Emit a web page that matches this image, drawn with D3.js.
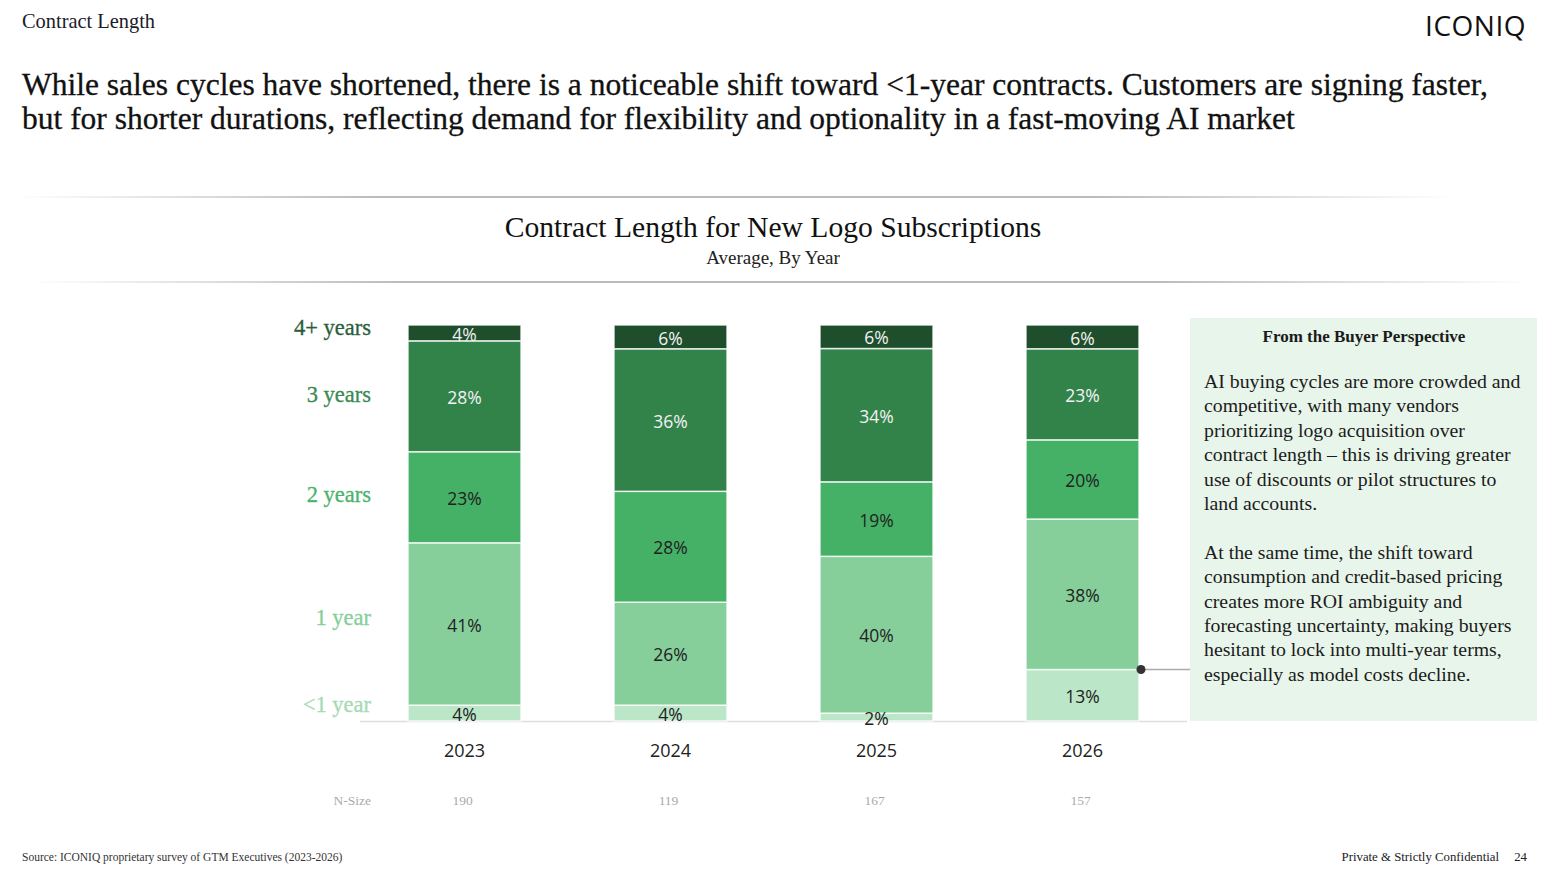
<!DOCTYPE html>
<html>
<head>
<meta charset="utf-8">
<script src="https://cdn.jsdelivr.net/npm/d3@7"></script>
<style>
  html, body { margin: 0; padding: 0; background: #fff; }
  svg { display: block; }
  .serif { font-family: "Liberation Serif", "DejaVu Serif", serif; }
  .sans { font-family: "Open Sans", "Noto Sans", sans-serif; }
</style>
</head>
<body>
<div id="chart"></div>
<script>
// Data
const years = ['2023', '2024', '2025', '2026']
const nSizes = [190, 119, 167, 157]
const lengths = ['<1 year', '1 year', '2 years', '3 years', '4+ years']
const lessThanOne = [4, 4, 2, 13]
const oneYear = [41, 26, 40, 38]
const twoYears = [23, 28, 19, 20]
const threeYears = [28, 36, 34, 23]
const fourPlus = [4, 6, 6, 6]

const titleLines = [
  'While sales cycles have shortened, there is a noticeable shift toward <1-year contracts. Customers are signing faster,',
  'but for shorter durations, reflecting demand for flexibility and optionality in a fast-moving AI market'
]
const panelTitle = 'From the Buyer Perspective'
const panelLines = [
  'AI buying cycles are more crowded and',
  'competitive, with many vendors',
  'prioritizing logo acquisition over',
  'contract length \u2013 this is driving greater',
  'use of discounts or pilot structures to',
  'land accounts.',
  '',
  'At the same time, the shift toward',
  'consumption and credit-based pricing',
  'creates more ROI ambiguity and',
  'forecasting uncertainty, making buyers',
  'hesitant to lock into multi-year terms,',
  'especially as model costs decline.'
]

const series = [lessThanOne, oneYear, twoYears, threeYears, fourPlus]
const table = years.map((y, i) => {
  const row = { year: y }
  lengths.forEach((l, j) => { row[l] = series[j][i] })
  return row
})

// Dimensions
const dimensions = { width: 1558, height: 877 }
const plot = { left: 360, right: 1187, top: 325, bottom: 721 }

const fillColors = ['#bce6c8', '#86cf9b', '#45b166', '#32834a', '#1f4e2d']
const labelColors = ['#a6dab3', '#86cf9b', '#4cb36c', '#3a8a52', '#2b5e3a']
const textColors = ['#222', '#222', '#222', '#f2f2f2', '#f2f2f2']

const svg = d3.select('#chart')
  .append('svg')
  .attr('width', dimensions.width)
  .attr('height', dimensions.height)

// Header
svg.append('text').attr('class', 'serif')
  .attr('x', 22).attr('y', 28)
  .attr('font-size', 20.4).attr('fill', '#1b1b2a')
  .text('Contract Length')

svg.append('text').attr('class', 'sans')
  .attr('x', 1526).attr('y', 36)
  .attr('text-anchor', 'end')
  .attr('font-size', 28).attr('font-weight', 400)
  .attr('letter-spacing', 0.5).attr('fill', '#111')
  .text('ICONIQ')

svg.append('g').selectAll('text')
  .data(titleLines)
  .join('text')
  .attr('class', 'serif')
  .attr('x', 22)
  .attr('y', (d, i) => 95 + i * 34)
  .attr('font-size', 31.5)
  .attr('fill', '#111')
  .attr('stroke', '#111')
  .attr('stroke-width', 0.3)
  .text(d => d)

// Separator lines with faded ends
const defs = svg.append('defs')
const grad = defs.append('linearGradient').attr('id', 'fade')
grad.append('stop').attr('offset', '0%').attr('stop-color', '#bbb').attr('stop-opacity', 0)
grad.append('stop').attr('offset', '25%').attr('stop-color', '#bbb').attr('stop-opacity', 1)
grad.append('stop').attr('offset', '75%').attr('stop-color', '#bbb').attr('stop-opacity', 1)
grad.append('stop').attr('offset', '100%').attr('stop-color', '#bbb').attr('stop-opacity', 0)

svg.append('rect').attr('x', 15).attr('y', 196).attr('width', 1440).attr('height', 2).attr('fill', 'url(#fade)')
svg.append('rect').attr('x', 30).attr('y', 281).attr('width', 1500).attr('height', 2).attr('fill', 'url(#fade)')

svg.append('text').attr('class', 'serif')
  .attr('x', 773).attr('y', 237)
  .attr('text-anchor', 'middle')
  .attr('font-size', 29.6).attr('fill', '#111')
  .text('Contract Length for New Logo Subscriptions')

svg.append('text').attr('class', 'serif')
  .attr('x', 773).attr('y', 264)
  .attr('text-anchor', 'middle')
  .attr('font-size', 19).attr('fill', '#222')
  .text('Average, By Year')

// Scales
const x = d3.scaleBand()
  .domain(years)
  .range([408, 1139])
  .paddingInner(93 / 206)
  .paddingOuter(0)

const y = d3.scaleLinear()
  .domain([0, 1])
  .range([plot.bottom, plot.top])

const stacked = d3.stack()
  .keys(lengths)
  .offset(d3.stackOffsetExpand)(table)

// Baseline (behind the bars)
svg.append('line')
  .attr('x1', plot.left).attr('x2', plot.right)
  .attr('y1', plot.bottom + 0.5).attr('y2', plot.bottom + 0.5)
  .attr('stroke', '#ddd').attr('stroke-width', 1.5)

// Bars
const layers = svg.append('g')
  .selectAll('g')
  .data(stacked)
  .join('g')
  .attr('fill', (d, i) => fillColors[i])

layers.selectAll('rect')
  .data(d => d)
  .join('rect')
  .attr('x', d => x(d.data.year))
  .attr('width', x.bandwidth())
  .attr('y', d => y(d[1]))
  .attr('height', d => y(d[0]) - y(d[1]))
  .attr('stroke', '#fff')
  .attr('stroke-opacity', 0.8)
  .attr('stroke-width', 1.5)

// labels drawn after all rects so small segments are not covered
svg.append('g')
  .selectAll('g')
  .data(stacked)
  .join('g')
  .attr('fill', (d, i) => textColors[i])
  .each(function (layer) {
    d3.select(this).selectAll('text')
      .data(layer)
      .join('text')
      .attr('class', 'sans')
      .attr('x', d => x(d.data.year) + x.bandwidth() / 2)
      .attr('y', d => (y(d[0]) + y(d[1])) / 2)
      .attr('dy', '0.44em')
      .attr('text-anchor', 'middle')
      .attr('font-size', 17.5)
      .text(d => d.data[layer.key] + '%')
  })

// x axis
const xAxis = svg.append('g')
  .attr('transform', `translate(0, ${plot.bottom})`)
  .call(d3.axisBottom(x).tickSize(0).tickPadding(23))
xAxis.select('.domain').remove()
xAxis.selectAll('text')
  .attr('class', 'sans')
  .attr('font-size', 18)
  .attr('fill', '#222')

// Category labels on the left
const labelY = [705, 618, 495, 395, 328]
svg.append('g').selectAll('text')
  .data(lengths)
  .join('text')
  .attr('class', 'serif')
  .attr('x', 371)
  .attr('y', (d, i) => labelY[i])
  .attr('dy', '0.32em')
  .attr('text-anchor', 'end')
  .attr('font-size', 22.5)
  .attr('fill', (d, i) => labelColors[i])
  .attr('stroke', (d, i) => labelColors[i])
  .attr('stroke-width', 0.3)
  .text(d => d)

// N-size row
svg.append('text').attr('class', 'serif')
  .attr('x', 371).attr('y', 805)
  .attr('text-anchor', 'end')
  .attr('font-size', 13.5).attr('fill', '#aaa')
  .text('N-Size')

svg.append('g').selectAll('text')
  .data(nSizes)
  .join('text')
  .attr('class', 'serif')
  .attr('x', (d, i) => x(years[i]) + x.bandwidth() / 2 - 2)
  .attr('y', 805)
  .attr('text-anchor', 'middle')
  .attr('font-size', 13.5).attr('fill', '#aaa')
  .text(d => d)

// Side panel
const panel = { x: 1190, y: 318, w: 347, h: 403 }
svg.append('rect')
  .attr('x', panel.x).attr('y', panel.y)
  .attr('width', panel.w).attr('height', panel.h)
  .attr('fill', '#e8f5ea')

svg.append('text').attr('class', 'serif')
  .attr('x', 1364).attr('y', 342)
  .attr('text-anchor', 'middle')
  .attr('font-size', 17).attr('font-weight', 'bold')
  .attr('fill', '#1b1b1b')
  .text(panelTitle)

svg.append('text').attr('class', 'serif')
  .attr('font-size', 19.8).attr('fill', '#1b1b1b')
  .selectAll('tspan')
  .data(panelLines)
  .join('tspan')
  .attr('x', 1204)
  .attr('y', (d, i) => 388 + i * 24.4)
  .text(d => d)

// Connector from the <1 year segment of 2026
const last = stacked[0][3]
const cy = y(last[1])
const cx = x('2026') + x.bandwidth() + 2
svg.append('line')
  .attr('x1', cx).attr('x2', panel.x)
  .attr('y1', cy).attr('y2', cy)
  .attr('stroke', '#aaa').attr('stroke-width', 1.5)
svg.append('circle')
  .attr('cx', cx).attr('cy', cy)
  .attr('r', 4.5).attr('fill', '#333')

// Footer
svg.append('text').attr('class', 'serif')
  .attr('x', 22).attr('y', 861)
  .attr('font-size', 11.5).attr('fill', '#333')
  .text('Source: ICONIQ proprietary survey of GTM Executives (2023-2026)')

svg.append('text').attr('class', 'serif')
  .attr('x', 1499).attr('y', 861)
  .attr('text-anchor', 'end')
  .attr('font-size', 12.8).attr('fill', '#222')
  .text('Private & Strictly Confidential')

svg.append('text').attr('class', 'serif')
  .attr('x', 1527).attr('y', 861)
  .attr('text-anchor', 'end')
  .attr('font-size', 12.8).attr('fill', '#222')
  .text('24')
</script>
</body>
</html>
